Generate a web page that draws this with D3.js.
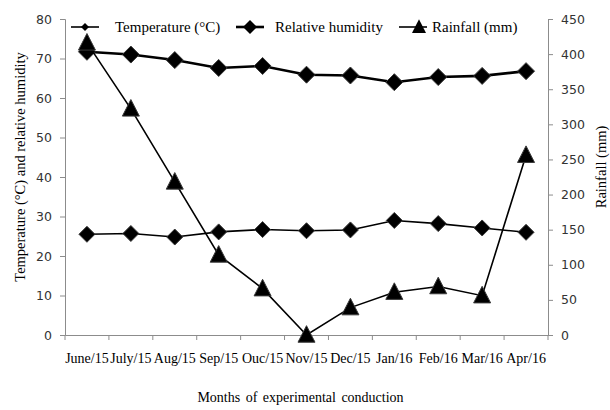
<!DOCTYPE html>
<html>
<head>
<meta charset="utf-8">
<script src="https://cdn.jsdelivr.net/npm/d3@7"></script>
<style>
    body { margin: 0; background: #fff; }
    #chart { width: 610px; height: 410px; }
</style>
</head>
<body>
<div id="chart"></div>
<script>
// Data
const months = ["June/15", "July/15", "Aug/15", "Sep/15", "Ouc/15", "Nov/15", "Dec/15", "Jan/16", "Feb/16", "Mar/16", "Apr/16"];
const temperature = [25.5, 25.7, 24.8, 26.1, 26.7, 26.4, 26.6, 29.0, 28.2, 27.1, 26.0];
const humidity = [71.7, 71.0, 69.6, 67.6, 68.1, 65.9, 65.7, 64.0, 65.3, 65.6, 66.8];
const rainfall = [416, 322, 218, 114, 66, 0, 39, 61, 69, 56, 256];
const leftTicks = [0, 10, 20, 30, 40, 50, 60, 70, 80];
const rightTicks = [0, 50, 100, 150, 200, 250, 300, 350, 400, 450];

let margin = {top: 19, right: 62, bottom: 75, left: 65};
let width = 610 - margin.left - margin.right;
let height = 410 - margin.top - margin.bottom;

const serif = "'Liberation Serif', 'Times New Roman', serif";
const tickFont = "'DejaVu Sans', Verdana, sans-serif";
const axisColor = "#8c8c8c";

let svg = d3.select("#chart").append("svg")
    .attr("width", 610)
    .attr("height", 410)
    .append("g")
    .attr("transform", `translate(${margin.left}, ${margin.top})`);

// Scales
let x = d3.scaleBand().domain(months).range([0, width]);
let yLeft = d3.scaleLinear().domain([0, 80]).range([height, 0]);
let yRight = d3.scaleLinear().domain([0, 450]).range([height, 0]);

// Left axis
let gl = svg.append("g")
    .call(d3.axisLeft(yLeft).tickValues(leftTicks).tickSize(5).tickPadding(8));
gl.selectAll("text").style("font-family", tickFont).style("font-size", "12.5px").attr("fill", "#333");

// Right axis
let gr = svg.append("g")
    .attr("transform", `translate(${width}, 0)`)
    .call(d3.axisRight(yRight).tickValues(rightTicks).tickSize(5).tickPadding(8));
gr.selectAll("text").style("font-family", tickFont).style("font-size", "12.5px").attr("fill", "#333");

// Bottom axis: ticks at band boundaries
let gb = svg.append("g")
    .attr("transform", `translate(0, ${height})`)
    .call(d3.axisBottom(x).tickSize(0).tickPadding(18));
gb.selectAll("text").style("font-family", serif).style("font-size", "14px").attr("fill", "#000");
gb.selectAll(".boundary")
    .data(d3.range(months.length + 1))
    .enter()
    .append("line")
    .attr("x1", (i) => i * x.step())
    .attr("x2", (i) => i * x.step())
    .attr("y1", 0)
    .attr("y2", 5);

[gl, gr, gb].forEach((g) => {
    g.selectAll("path.domain").attr("stroke", axisColor);
    g.selectAll("line").attr("stroke", axisColor);
});

// Markers
let diamond = (s) => `M0,${-s}L${s},0L0,${s}L${-s},0Z`;
let triangle = (s) => `M0,${-s * 1.1}L${s},${s * 0.85}L${-s},${s * 0.85}Z`;
let cx = (i) => x(months[i]) + x.bandwidth() / 2;

function drawSeries(values, scale, lineWidth, shape) {
    svg.append("path")
        .datum(values)
        .attr("fill", "none")
        .attr("stroke", "#000")
        .attr("stroke-width", lineWidth)
        .attr("d", d3.line().x((d, i) => cx(i)).y((d) => scale(d)));

    svg.selectAll(null)
        .data(values)
        .enter()
        .append("path")
        .attr("transform", (d, i) => `translate(${cx(i)}, ${scale(d)})`)
        .attr("d", shape)
        .attr("fill", "#000")
        .attr("stroke", "#3a3a3a")
        .attr("stroke-width", 1);
}

drawSeries(temperature, yLeft, 1.6, diamond(8));
drawSeries(humidity, yLeft, 2.6, diamond(8.5));
drawSeries(rainfall, yRight, 1.6, triangle(8.5));

// Legend
let legend = [
    {label: "Temperature (°C)", x: 6, shape: diamond(4), w: 1.6, tx: 50, mx: 14},
    {label: "Relative humidity", x: 171, shape: diamond(7), w: 2.6, tx: 210, mx: 14},
    {label: "Rainfall (mm)", x: 334, shape: triangle(7), w: 1.6, tx: 367, mx: 20}
];
let lg = svg.append("g").attr("transform", "translate(0, 8)");
legend.forEach((l) => {
    lg.append("line")
        .attr("x1", l.x).attr("x2", l.x + 28)
        .attr("y1", 0).attr("y2", 0)
        .attr("stroke", "#000").attr("stroke-width", l.w);
    lg.append("path")
        .attr("transform", `translate(${l.x + l.mx}, 0)`)
        .attr("d", l.shape)
        .attr("fill", "#000");
    lg.append("text")
        .style("font-family", serif)
        .style("font-size", "15px")
        .attr("x", l.tx)
        .attr("y", 5)
        .text(l.label);
});

// Axis titles
svg.append("text")
    .style("font-family", serif)
    .style("font-size", "14.5px")
    .attr("transform", `translate(${-40}, ${148}) rotate(-90)`)
    .attr("text-anchor", "middle")
    .text("Temperature (°C) and relative humidity");

svg.append("text")
    .style("font-family", serif)
    .style("font-size", "14.5px")
    .attr("transform", `translate(${width + 58}, ${148}) rotate(-90)`)
    .attr("text-anchor", "middle")
    .text("Rainfall (mm)");

svg.append("text")
    .style("font-family", serif)
    .style("font-size", "14px")
    .attr("x", width / 2 - 6)
    .attr("y", height + 67)
    .attr("text-anchor", "middle")
    .attr("word-spacing", 2)
    .text("Months of experimental conduction");
</script>
</body>
</html>
